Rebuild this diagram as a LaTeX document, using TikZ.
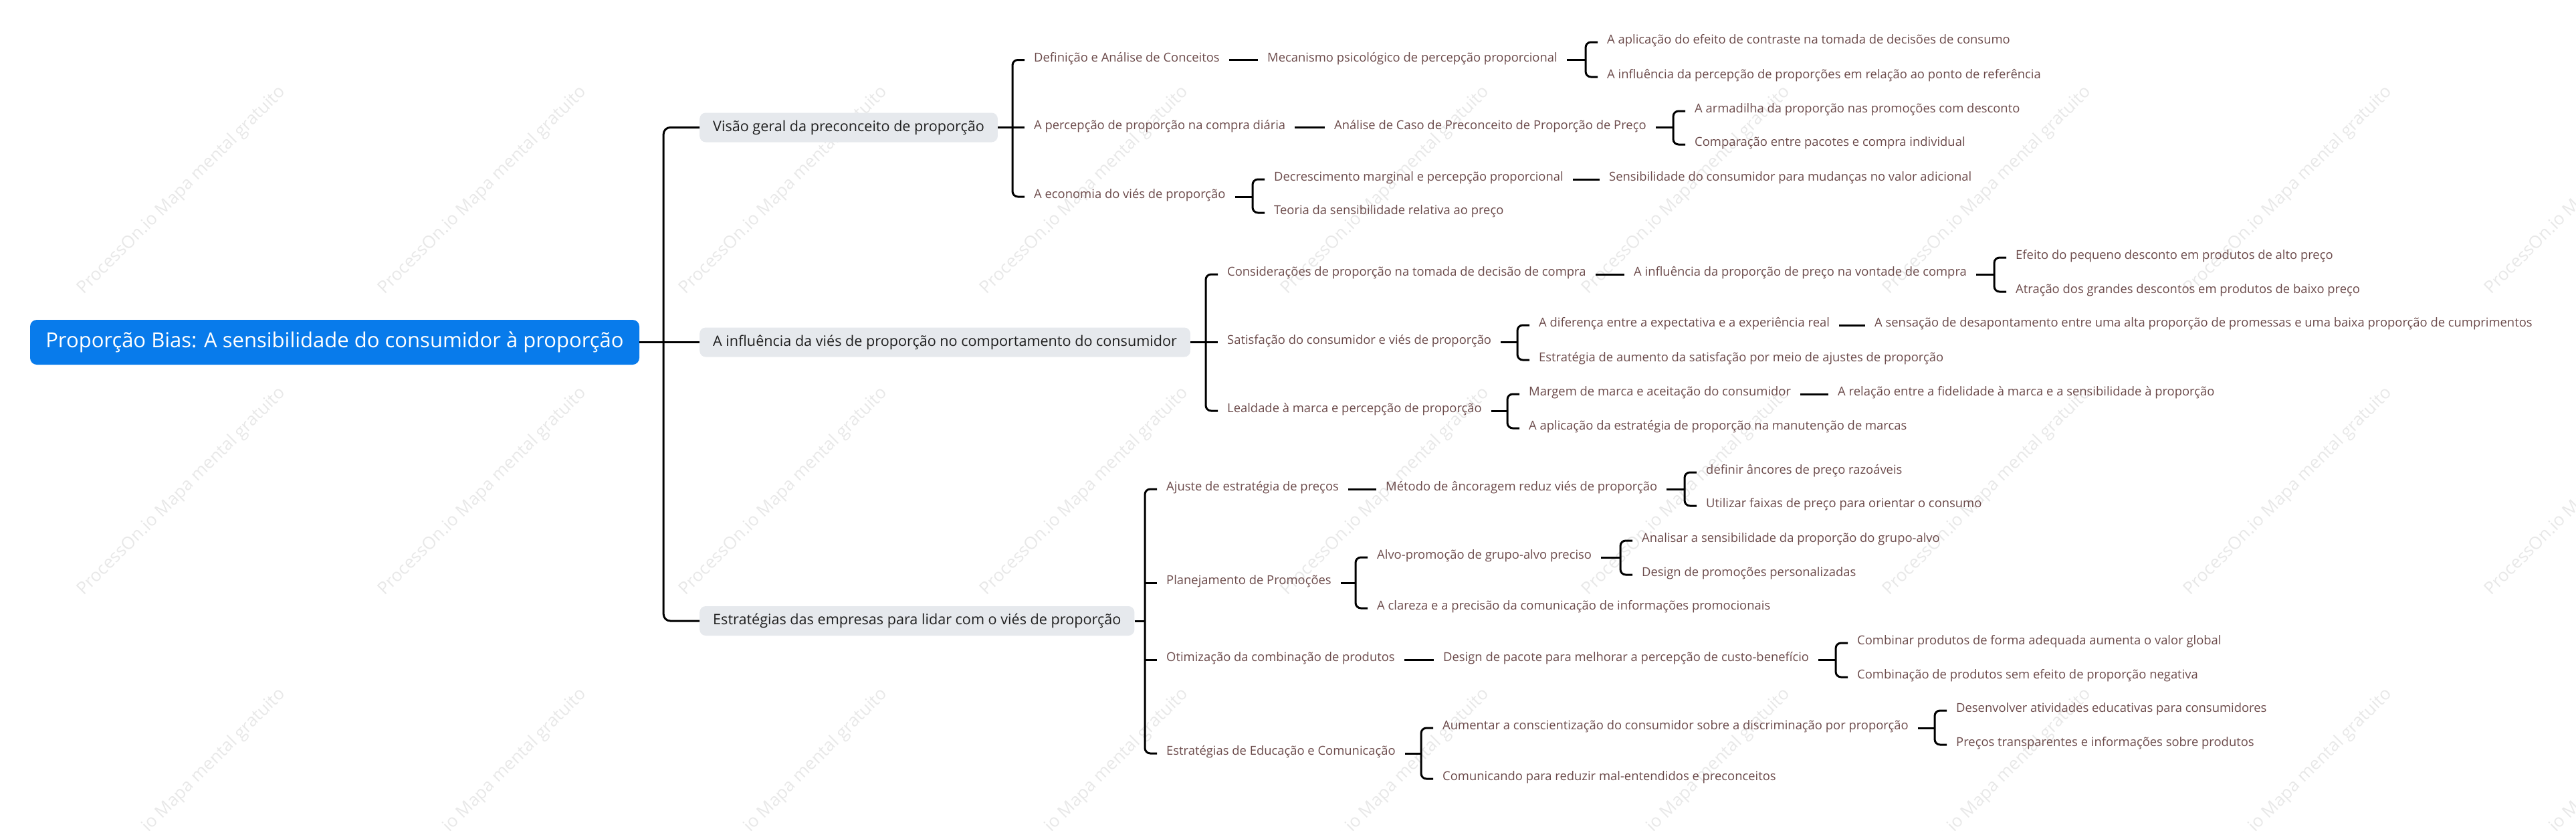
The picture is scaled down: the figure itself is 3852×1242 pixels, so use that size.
\documentclass[tikz,border=0pt]{standalone}
\usepackage{fontspec}
\setmainfont{Open Sans}
\usepackage{tikz}
\usetikzlibrary{calc}
\definecolor{rootblue}{RGB}{8,123,235}
\definecolor{topicgray}{RGB}{230,233,237}
\definecolor{leafbrown}{RGB}{107,74,74}
% bracket from a parent to the first and last of its children
\newcommand{\fork}[3]{%
  \coordinate (#1-x) at ($(#2.west)+(-18,0)$);
  \draw[link,rounded corners=8pt] (#2.west) -| (#1-x |- #1.east) |- (#3.west);
  \draw[link] (#1.east) -- (#1-x |- #1.east);}

\begin{document}
\begin{tikzpicture}[x=1pt,y=-1pt,
  root/.style={fill=rootblue,text=white,rounded corners=10pt,minimum width=911pt,
               minimum height=67pt,inner sep=0pt,font=\fontsize{31pt}{36pt}\selectfont},
  topic/.style={fill=topicgray,text=black!88,rounded corners=9pt,anchor=west,
                minimum height=44pt,inner xsep=20pt,inner ysep=0pt,
                font=\fontsize{21.6pt}{26pt}\selectfont},
  leaf/.style={anchor=west,xshift=-14pt,inner xsep=14pt,inner ysep=0pt,text=leafbrown,
               text height=0.75em,text depth=0.2em,font=\fontsize{18.4pt}{22pt}\selectfont},
  link/.style={line width=3pt,black},
  wmark/.style={rotate=45,text=black!9,font=\fontsize{26pt}{30pt}\selectfont}]
  \useasboundingbox (0,0) rectangle (3852,1242);

  % watermark grid
  \foreach \i in {0,...,8}
    \foreach \j in {0,1,2}
      \node[wmark] (wm-\i-\j) at (272+450*\i,285+450*\j) {ProcessOn.io Mapa mental gratuito};

  \node[root] (root) at (500.5,511.5) {Proporção Bias: A sensibilidade do consumidor à proporção};
  \node[topic] (ov) at (1046,190.5) {Visão geral da preconceito de proporção};
  \node[topic] (beh) at (1046,511.5) {A influência da viés de proporção no comportamento do consumidor};
  \node[topic] (strat) at (1046,928) {Estratégias das empresas para lidar com o viés de proporção};
  \draw[link] (root.east) -- (beh.west);
  \draw[link,rounded corners=10pt] (ov.west) -| ($(root.east)+(36,0)$) |- (strat.west);

  % Visão geral
  \node[leaf] (def) at (1546,89.5) {Definição e Análise de Conceitos};
  \node[leaf] (daily) at (1546,190.5) {A percepção de proporção na compra diária};
  \node[leaf] (eco) at (1546,294) {A economia do viés de proporção};
  \fork{ov}{def}{eco}
  \draw[link] (ov-x |- daily.west) -- (daily.west);

  \node[leaf] (mech) at (1895,89.5) {Mecanismo psicológico de percepção proporcional};
  \draw[link] (def.east) -- (mech.west);
  \node[leaf] (contr) at (2403,63) {A aplicação do efeito de contraste na tomada de decisões de consumo};
  \node[leaf] (refpt) at (2403,115) {A influência da percepção de proporções em relação ao ponto de referência};
  \fork{mech}{contr}{refpt}

  \node[leaf] (case) at (1995,190.5) {Análise de Caso de Preconceito de Proporção de Preço};
  \draw[link] (daily.east) -- (case.west);
  \node[leaf] (trap) at (2534,166) {A armadilha da proporção nas promoções com desconto};
  \node[leaf] (pack) at (2534,216) {Comparação entre pacotes e compra individual};
  \fork{case}{trap}{pack}

  \node[leaf] (decr) at (1905,268) {Decrescimento marginal e percepção proporcional};
  \node[leaf] (theo) at (1905,318) {Teoria da sensibilidade relativa ao preço};
  \fork{eco}{decr}{theo}
  \node[leaf] (sens) at (2406,268) {Sensibilidade do consumidor para mudanças no valor adicional};
  \draw[link] (decr.east) -- (sens.west);

  % A influência
  \node[leaf] (cons) at (1835,410) {Considerações de proporção na tomada de decisão de compra};
  \node[leaf] (satis) at (1835,511.5) {Satisfação do consumidor e viés de proporção};
  \node[leaf] (loyal) at (1835,614) {Lealdade à marca e percepção de proporção};
  \fork{beh}{cons}{loyal}
  \draw[link] (beh-x |- satis.west) -- (satis.west);

  \node[leaf] (will) at (2443,410) {A influência da proporção de preço na vontade de compra};
  \draw[link] (cons.east) -- (will.west);
  \node[leaf] (small) at (3014,385) {Efeito do pequeno desconto em produtos de alto preço};
  \node[leaf] (large) at (3014,436) {Atração dos grandes descontos em produtos de baixo preço};
  \fork{will}{small}{large}

  \node[leaf] (gap) at (2301,486) {A diferença entre a expectativa e a experiência real};
  \node[leaf] (raise) at (2301,538) {Estratégia de aumento da satisfação por meio de ajustes de proporção};
  \fork{satis}{gap}{raise}
  \node[leaf] (disap) at (2803,486) {A sensação de desapontamento entre uma alta proporção de promessas e uma baixa proporção de cumprimentos};
  \draw[link] (gap.east) -- (disap.west);

  \node[leaf] (margin) at (2286,589) {Margem de marca e aceitação do consumidor};
  \node[leaf] (keep) at (2286,640) {A aplicação da estratégia de proporção na manutenção de marcas};
  \fork{loyal}{margin}{keep}
  \node[leaf] (fidel) at (2748,589) {A relação entre a fidelidade à marca e a sensibilidade à proporção};
  \draw[link] (margin.east) -- (fidel.west);

  % Estratégias
  \node[leaf] (price) at (1744,731) {Ajuste de estratégia de preços};
  \node[leaf] (promo) at (1744,871) {Planejamento de Promoções};
  \node[leaf] (combo) at (1744,986) {Otimização da combinação de produtos};
  \node[leaf] (educ) at (1744,1126) {Estratégias de Educação e Comunicação};
  \fork{strat}{price}{educ}
  \draw[link] (strat-x |- promo.west) -- (promo.west);
  \draw[link] (strat-x |- combo.west) -- (combo.west);

  \node[leaf] (anchor) at (2072,731) {Método de âncoragem reduz viés de proporção};
  \draw[link] (price.east) -- (anchor.west);
  \node[leaf] (fair) at (2551,706) {definir âncores de preço razoáveis};
  \node[leaf] (band) at (2551,756) {Utilizar faixas de preço para orientar o consumo};
  \fork{anchor}{fair}{band}

  \node[leaf] (target) at (2059,833) {Alvo-promoção de grupo-alvo preciso};
  \node[leaf] (clear) at (2059,909) {A clareza e a precisão da comunicação de informações promocionais};
  \fork{promo}{target}{clear}
  \node[leaf] (analy) at (2455,808) {Analisar a sensibilidade da proporção do grupo-alvo};
  \node[leaf] (pers) at (2455,859) {Design de promoções personalizadas};
  \fork{target}{analy}{pers}

  \node[leaf] (bundle) at (2158,986) {Design de pacote para melhorar a percepção de custo-benefício};
  \draw[link] (combo.east) -- (bundle.west);
  \node[leaf] (value) at (2777,961) {Combinar produtos de forma adequada aumenta o valor global};
  \node[leaf] (noneg) at (2777,1012) {Combinação de produtos sem efeito de proporção negativa};
  \fork{bundle}{value}{noneg}

  \node[leaf] (aware) at (2157,1088) {Aumentar a conscientização do consumidor sobre a discriminação por proporção};
  \node[leaf] (talk) at (2157,1164) {Comunicando para reduzir mal-entendidos e preconceitos};
  \fork{educ}{aware}{talk}
  \node[leaf] (teach) at (2925,1062) {Desenvolver atividades educativas para consumidores};
  \node[leaf] (transp) at (2925,1113) {Preços transparentes e informações sobre produtos};
  \fork{aware}{teach}{transp}
\end{tikzpicture}
\end{document}
